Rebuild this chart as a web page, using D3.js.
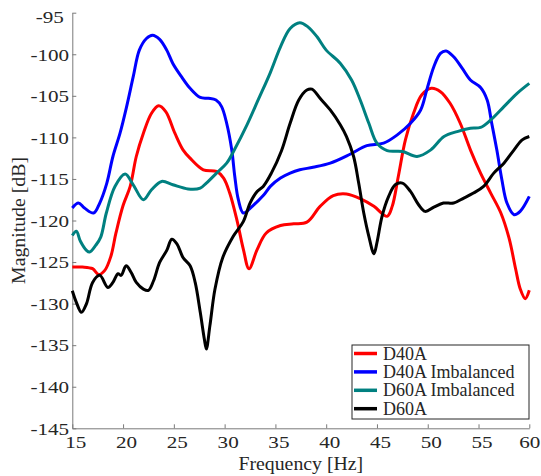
<html>
<head>
  <meta charset="utf-8">
  <script src='https://d3js.org/d3.v7.min.js'></script>
  <style>
    body { margin: 0; background: white; }
    svg text { font-family: 'Liberation Serif', 'DejaVu Serif', serif; fill: #262626; }
  </style>
</head>
<body>
<script>

// data: frequency [Hz] and magnitude [dB] per series
var d40aF  = [15,16,17,17.6,18.2,18.8,19.3,20,20.7,21.3,22,22.8,23.5,24.2,25.1,25.9,26.6,27.9,29.2,29.9,30.5,31.2,31.85,32.4,33.2,34.1,35.5,36.8,38.1,39.4,40.7,42,43.4,44.7,46,46.5,47.1,47.8,48.6,49.4,50.35,51.25,52.2,53.2,54.2,55.2,56.2,57.2,58,58.65,59.1,59.6,60];
var d40aDb = [-125.6,-125.6,-125.8,-126.5,-126,-124.3,-121.5,-118.2,-115.9,-112.3,-109.5,-107.1,-106.2,-106.9,-109.5,-111.5,-112.5,-113.9,-114.1,-114.9,-116.7,-119.9,-123.5,-125.8,-123.5,-121.5,-120.6,-120.4,-120.2,-118.3,-117,-116.8,-117.4,-118.3,-119.5,-118.3,-114.7,-110.3,-107.1,-104.9,-104.1,-104.5,-105.9,-108.3,-111.5,-114.3,-116.7,-119.1,-122.1,-125.8,-128.2,-129.4,-128.4];

var d40aImbF  = [15,15.6,16.2,17.1,17.7,18.4,19,19.7,20.35,21,21.6,22.3,22.9,23.6,24.3,24.9,25.75,26.6,27.6,28.4,29.15,29.7,30.2,30.7,31,31.35,31.85,32.8,33.8,34.5,35.5,36.45,37.4,38.7,40.4,42.4,44,45.65,47,48.3,49.3,49.9,50.6,51.25,51.8,52.55,53.4,54.2,55.2,55.85,56.3,56.8,57.3,57.8,58.5,59.1,60];
var d40aImbDb = [-118.5,-117.9,-118.5,-119.1,-117.9,-115.5,-112.3,-109.5,-106.3,-102.7,-99.5,-98.1,-97.7,-98.2,-99.5,-101.1,-102.7,-104.1,-105.2,-105.3,-105.5,-106.3,-108.3,-111.5,-114.7,-117.5,-119.1,-118.2,-117,-115.9,-114.9,-114.3,-113.9,-113.6,-113.1,-112,-111,-110.7,-109.7,-108.3,-106.7,-104.3,-101.5,-99.9,-99.6,-100.3,-101.7,-103.1,-104,-105.5,-108.3,-111.5,-115.1,-117.9,-119.3,-118.9,-117.1];

var d60aImbF  = [15,15.4,15.8,16.4,16.7,17.3,17.8,18.35,19.2,20.2,21,22,22.8,23.8,24.9,26.4,27.6,28.2,29.2,30.2,31,32.2,33.3,34.5,35.5,36.45,37.4,38.2,39.1,40,41.4,42.5,43.35,44.2,45,46,47.5,48.95,50.3,51.6,52.9,54.2,55.2,56.2,57.5,58.8,60];
var d60aImbDb = [-121.8,-121.3,-122.5,-123.6,-123.8,-123,-122,-119.1,-115.9,-114.4,-115.7,-117.5,-116.3,-115.3,-115.7,-116.2,-116.1,-115.5,-114.3,-113.1,-111.4,-108.5,-105.5,-102.2,-99.1,-96.9,-96.2,-96.7,-97.9,-99.5,-101.1,-103.1,-105.5,-108.3,-110.7,-111.6,-111.7,-112.3,-111.5,-109.9,-109.3,-108.9,-108.8,-107.9,-106.3,-104.7,-103.5];

var d60aF  = [15,15.4,15.9,16.4,17,17.7,18.5,19,19.5,19.8,20.3,20.8,21.3,22,22.5,23,23.6,24.3,24.8,25.3,25.9,26.6,27.1,27.6,28,28.2,28.55,29.05,29.8,30.85,31.85,32.5,33.2,33.8,34.6,35.6,36.45,37.3,38.1,38.6,39.4,40.4,41.4,42,42.7,43.2,43.7,44.2,44.7,45,45.5,46.15,46.8,47.5,48.3,49.1,49.75,50.6,51.55,52.55,53.55,54.5,55.5,56.5,57.5,58.5,59.3,60];
var d60aDb = [-128.45,-129.85,-131.05,-130,-127.45,-126.6,-128.05,-127.45,-126.4,-126.6,-125.45,-126.25,-127.45,-128.25,-128.4,-127.25,-125.05,-123.6,-122.25,-122.8,-124.45,-125.45,-127.45,-131.05,-134.25,-135.45,-132.65,-128.25,-124.5,-121.9,-120.1,-117.9,-116.5,-115.9,-114.3,-111.6,-108.3,-105.5,-104.3,-104.2,-105.3,-106.7,-108.5,-109.9,-112.3,-115.5,-119.1,-121.9,-124,-122.65,-119.5,-117.1,-115.7,-115.5,-116.5,-118.1,-118.9,-118.4,-117.9,-117.9,-117.3,-116.7,-115.9,-114.3,-113.1,-111.5,-110.3,-109.9];

var seriesNames = ['D40A', 'D40A Imbalanced', 'D60A Imbalanced', 'D60A'];
var seriesColors = ['#ff0000', '#0000ff', '#008080', '#000000'];
var seriesF = [d40aF, d40aImbF, d60aImbF, d60aF];
var seriesDb = [d40aDb, d40aImbDb, d60aImbDb, d60aDb];

var xTicks = [15, 20, 25, 30, 35, 40, 45, 50, 55, 60];
var yTicks = [-95, -100, -105, -110, -115, -120, -125, -130, -135, -140, -145];

var width = 541,
    height = 476,
    margin = {top: 12.7, right: 11.7, bottom: 47.7, left: 72.3},
    serif = "'Liberation Serif', 'DejaVu Serif', serif",
    stretch = 1.28,   // tick labels are drawn wide in the original
    tstretch = 1.1;   // axis titles slightly wide too

var svg = d3.select('body')
  .append('svg')
  .attr('width', width)
  .attr('height', height)
  .attr('font-family', serif);

var x = d3.scaleLinear().domain([15, 60]).range([margin.left, width - margin.right]);
var y = d3.scaleLinear().domain([-145, -95]).range([height - margin.bottom, margin.top]);

// plain hyphen like the original, not the unicode minus
var fmt = function(d) { return String(d); };

// bottom axis, ticks pointing inward
var xAxis = svg.append('g')
  .attr('transform', 'translate(0,' + y(-145) + ')')
  .call(d3.axisBottom(x).tickValues(xTicks).tickFormat(fmt).tickSizeInner(-4).tickSizeOuter(0).tickPadding(8));

// left axis, ticks pointing inward
var yAxis = svg.append('g')
  .attr('transform', 'translate(' + x(15) + ',0)')
  .call(d3.axisLeft(y).tickValues(yTicks).tickFormat(fmt).tickSizeInner(-4).tickSizeOuter(0).tickPadding(22));

[xAxis, yAxis].forEach(function(a) {
  a.attr('font-family', serif);
  a.select('.domain').attr('stroke', '#7a7a7a').attr('stroke-width', 1);
  a.selectAll('.tick line').attr('stroke', '#7a7a7a');
  a.selectAll('.tick text').attr('font-size', 16.5).attr('fill', '#262626');
});

xAxis.selectAll('.tick text')
  .attr('transform', 'scale(' + stretch + ',1)')
  .attr('x', function(d, i) { return (i === xTicks.length - 1 ? 0 : 3) / stretch; })
  .attr('dy', '0.71em');

yAxis.selectAll('.tick text')
  .attr('text-anchor', 'middle')
  .attr('transform', 'scale(' + stretch + ',1)')
  .attr('x', -22.5 / stretch)
  .attr('dy', function(d) { return d === -95 ? '0.58em' : '0.35em'; });

// axis titles
var cx = (x(15) + x(60)) / 2;
svg.append('text')
  .attr('transform', 'scale(' + tstretch + ',1)')
  .attr('x', cx / tstretch)
  .attr('y', 470)
  .attr('text-anchor', 'middle')
  .attr('font-size', 18)
  .text('Frequency [Hz]');

svg.append('text')
  .attr('transform', 'translate(25,' + (y(-95) + y(-145)) / 2 + ') rotate(-90) scale(' + tstretch + ',1)')
  .attr('text-anchor', 'middle')
  .attr('font-size', 18)
  .text('Magnitude [dB]');

// curves
var line = d3.line()
  .x(function(d) { return x(d[0]); })
  .y(function(d) { return y(d[1]); })
  .curve(d3.curveCatmullRom.alpha(0.5));

seriesNames.forEach(function(name, i) {
  var pts = d3.zip(seriesF[i], seriesDb[i]);
  svg.append('path')
    .datum(pts)
    .attr('fill', 'none')
    .attr('stroke', seriesColors[i])
    .attr('stroke-width', 3)
    .attr('stroke-linejoin', 'round')
    .attr('d', line);
});

// legend
var lx = 352, ly = 345, lw = 177, lh = 74, rowH = 18.4;
var legend = svg.append('g');
legend.append('rect')
  .attr('x', lx).attr('y', ly)
  .attr('width', lw).attr('height', lh)
  .attr('fill', 'white')
  .attr('stroke', '#262626')
  .attr('stroke-width', 1);

var rows = legend.selectAll('g.row')
  .data(seriesNames)
  .enter()
  .append('g')
  .attr('class', 'row')
  .attr('transform', function(d, i) { return 'translate(' + lx + ',' + (ly + 8.5 + rowH * i) + ')'; });

rows.append('line')
  .attr('x1', 2).attr('x2', 25)
  .attr('stroke', function(d, i) { return seriesColors[i]; })
  .attr('stroke-width', 3.5);

rows.append('text')
  .attr('x', 31)
  .attr('dy', '0.34em')
  .attr('font-size', 18)
  .text(function(d) { return d; });

</script>
</body>
</html>
